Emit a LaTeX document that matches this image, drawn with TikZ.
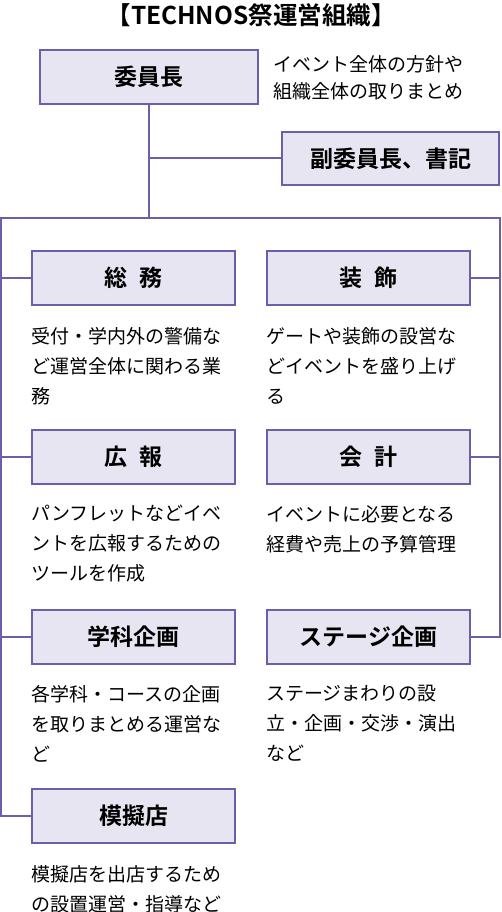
\documentclass[tikz,border=0pt]{standalone}
\usepackage{fontspec}
\setmainfont{Noto Sans CJK JP}[BoldFont={Noto Sans CJK JP Bold}]
\usetikzlibrary{positioning}
\definecolor{orgline}{HTML}{6A5FA8}
\definecolor{orgfill}{HTML}{E7E5F1}

\begin{document}
\begin{tikzpicture}[x=1pt,y=-1pt,
    unitbox/.style={draw=orgline,fill=orgfill,line width=2pt,minimum width=203pt,minimum height=54pt,inner sep=0pt,font=\fontsize{23}{27}\selectfont\bfseries},
    desc/.style={anchor=north west,inner sep=0pt,align=left,font=\fontsize{19}{30}\selectfont},
    link/.style={draw=orgline,line width=2pt}]
    \pgfmathsetmacro{\colL}{133.5}
    \pgfmathsetmacro{\colR}{368.5}
    \useasboundingbox (0,0) rectangle (502,912);

    \node[font=\fontsize{24.5}{28}\selectfont\bfseries] (title) at (251,15) {【TECHNOS祭運営組織】};

    \node[unitbox,minimum width=218pt] (chair) at (149,77) {委員長};
    \node[desc,font=\fontsize{19}{27}\selectfont] (chairtxt) at (273,55) {イベント全体の方針や\\組織全体の取りまとめ};
    \node[unitbox,minimum width=217pt,minimum height=53pt] (vice) at (390.5,158.5) {副委員長、書記};

    \node[unitbox] (soumu) at (\colL,278) {総\hspace{.55em}務};
    \node[unitbox] (kouhou) at (\colL,456.5) {広\hspace{.55em}報};
    \node[unitbox] (gakka) at (\colL,636.5) {学科企画};
    \node[unitbox] (mogi) at (\colL,816) {模擬店};
    \node[unitbox] (sousyoku) at (\colR,278) {装\hspace{.55em}飾};
    \node[unitbox] (kaikei) at (\colR,456.5) {会\hspace{.55em}計};
    \node[unitbox] (stage) at (\colR,636.5) {ステージ企画};

    \node[desc] (soumutxt) at (31,327) {受付・学内外の警備な\\ど運営全体に関わる業\\務};
    \node[desc] (kouhoutxt) at (31,505) {パンフレットなどイベ\\ントを広報するための\\ツールを作成};
    \node[desc] (gakkatxt) at (31,685) {各学科・コースの企画\\を取りまとめる運営な\\ど};
    \node[desc] (mogitxt) at (31,865) {模擬店を出店するため\\の設置運営・指導など};
    \node[desc] (sousyokutxt) at (266,327) {ゲートや装飾の設営な\\どイベントを盛り上げ\\る};
    \node[desc] (kaikeitxt) at (266,505) {イベントに必要となる\\経費や売上の予算管理};
    \node[desc] (stagetxt) at (266,685) {ステージまわりの設\\立・企画・交渉・演出\\など};

    % bus lines
    \coordinate (busL) at (1,218);
    \coordinate (busR) at (500,218);
    \draw[link] (chair.south) -- (chair.south |- busL);
    \draw[link] (chair.south |- vice.west) -- (vice.west);
    \draw[link] (mogi.west) -| (busL) -- (busR) |- (stage.east);
    \foreach \n in {soumu,kouhou,gakka}
        \draw[link] (\n.west) -- (\n.west -| busL);
    \foreach \n in {sousyoku,kaikei}
        \draw[link] (\n.east) -- (\n.east -| busR);
\end{tikzpicture}
\end{document}
